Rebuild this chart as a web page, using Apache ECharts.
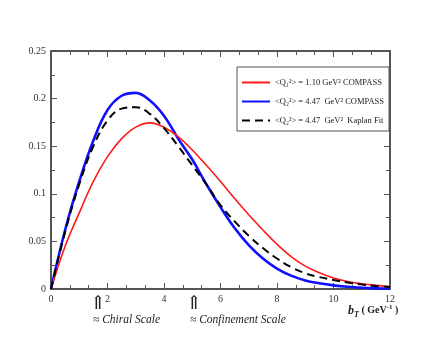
<!DOCTYPE html>
<html>
<head>
<meta charset="utf-8">
<script src="https://cdn.jsdelivr.net/npm/echarts@6/dist/echarts.min.js"></script>
<style>html,body{margin:0;padding:0;background:#fff}#c{width:440px;height:340px}</style>
</head>
<body>
<div id="c"></div>
<script>
const bT = [0,0.5,1,1.5,2,2.5,3,3.5,4,4.5,5,5.5,6,6.5,7,7.5,8,8.5,9,9.5,10,10.5,11,11.5,12];
const red = [0,0.045,0.080,0.113,0.139,0.158,0.170,0.1745,0.170,0.160,0.146,0.130,0.113,0.095,0.078,0.062,0.047,0.034,0.024,0.017,0.0115,0.0078,0.0055,0.0038,0.0025];
const blue = [0,0.062,0.113,0.156,0.188,0.203,0.206,0.198,0.182,0.158,0.136,0.110,0.086,0.064,0.046,0.032,0.0215,0.014,0.009,0.006,0.0038,0.0023,0.0013,0.0007,0.0004];
const black = [0,0.060,0.110,0.150,0.177,0.1895,0.191,0.184,0.169,0.150,0.130,0.110,0.088,0.071,0.056,0.043,0.032,0.023,0.0165,0.0125,0.0095,0.0068,0.0048,0.0032,0.002];
const names = ['<Q\u2081\u00B2> = 1.10 GeV\u00B2 COMPASS','<Q\u2082\u00B2> = 4.47  GeV\u00B2 COMPASS','<Q\u2082\u00B2> = 4.47  GeV\u00B2  Kaplan Fit'];
const xTicks = [0,2,4,6,8,10,12];
const yTicks = [0,0.05,0.1,0.15,0.2,0.25];

const pair = arr => bT.map((b,i)=>[b,arr[i]]);
const serif = '"Liberation Serif","DejaVu Serif",serif';
const axisCol = '#555';
const chart = echarts.init(document.getElementById('c'), null, {renderer:'canvas'});
const baseX = {
  type:'value', min:0, max:12, interval:2,
  axisLine:{show:true,onZero:false,lineStyle:{color:axisCol,width:2}},
  axisTick:{show:true,inside:true,length:6,lineStyle:{color:axisCol,width:1}},
  minorTick:{show:true,splitNumber:3,length:4,lineStyle:{color:axisCol,width:1}},
  splitLine:{show:false}
};
const baseY = {
  type:'value', min:0, max:0.25, interval:0.05,
  axisLine:{show:true,onZero:false,lineStyle:{color:axisCol,width:2}},
  axisTick:{show:true,inside:true,length:6,lineStyle:{color:axisCol,width:1}},
  minorTick:{show:true,splitNumber:2,length:4,lineStyle:{color:axisCol,width:1}},
  splitLine:{show:false}
};
chart.setOption({
  animation:false,
  backgroundColor:'#fff',
  grid:{left:51,right:50,top:51,bottom:51,containLabel:false},
  xAxis:[
    Object.assign({},baseX,{position:'bottom',axisLabel:{show:true,fontFamily:serif,fontSize:10,color:'#333',margin:5,formatter:v=>xTicks.includes(v)?String(v):''}}),
    Object.assign({},baseX,{position:'top',axisLabel:{show:false}})
  ],
  yAxis:[
    Object.assign({},baseY,{position:'left',axisLabel:{show:true,fontFamily:serif,fontSize:10,color:'#333',margin:5,formatter:v=>{const t=yTicks.find(y=>Math.abs(y-v)<1e-9);return t===undefined?'':String(t);}}}),
    Object.assign({},baseY,{position:'right',axisLabel:{show:false}})
  ],
  legend:{
    orient:'vertical', left:237, top:67,
    data:names,
    itemWidth:28, itemHeight:10, itemGap:10,
    padding:[11,5,6,4],
    borderColor:'#555', borderWidth:1, backgroundColor:'#fff',
    itemStyle:{opacity:0},
    textStyle:{fontFamily:serif,fontSize:8.5,color:'#222'}
  },
  series:[
    {name:names[0],type:'line',data:pair(red),smooth:0.4,symbol:'none',lineStyle:{color:'#ff1a1a',width:1.6},itemStyle:{color:'#ff1a1a'},z:3},
    {name:names[1],type:'line',data:pair(blue),smooth:0.4,symbol:'none',lineStyle:{color:'#1010ff',width:2.6},itemStyle:{color:'#1010ff'},z:2},
    {name:names[2],type:'line',data:pair(black),smooth:0.4,symbol:'none',lineStyle:{color:'#000',width:2,type:[8,5]},itemStyle:{color:'#000'},z:4}
  ],
  graphic:[
    {type:'text',left:90,top:295,style:{text:'\u21D1',font:'19px '+serif,fill:'#222'}},
    {type:'text',left:186,top:295,style:{text:'\u21D1',font:'19px '+serif,fill:'#222'}},
    {type:'text',left:93,top:314,style:{text:'\u2248 Chiral Scale',font:'italic 11.5px '+serif,fill:'#222'}},
    {type:'text',left:190,top:314,style:{text:'\u2248 Confinement Scale',font:'italic 11.5px '+serif,fill:'#222'}},
    {type:'text',left:348,top:304,style:{
      text:'{b|b}{t|T}{g| ( GeV}{s|-1}{g| )}',
      rich:{
        b:{font:'bold italic 12px '+serif,fill:'#222'},
        t:{font:'bold italic 8px '+serif,fill:'#222',padding:[8,0,0,0]},
        g:{font:'bold 10px '+serif,fill:'#222'},
        s:{font:'bold 7px '+serif,fill:'#222',padding:[0,0,6,0]}
      }
    }}
  ]
});
</script>
</body>
</html>
